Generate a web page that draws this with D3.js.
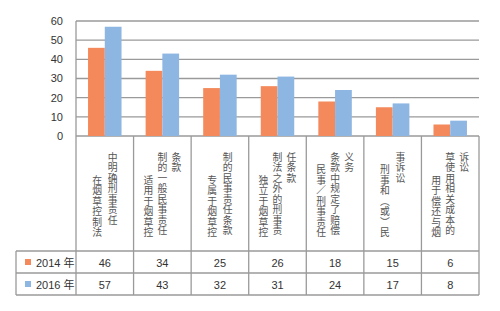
<!DOCTYPE html>
<html>
<head>
<meta charset="utf-8">
<script src="https://cdn.jsdelivr.net/npm/d3@7"></script>
<style>
  body { margin: 0; background: #fff; }
  text { font-family: "Liberation Sans", Arial, "Noto Sans CJK SC", sans-serif; fill: #333; }
  .cjk { font-family: "Noto Sans CJK SC", sans-serif; fill: #555; writing-mode: vertical-rl; }
</style>
</head>
<body>
<script>
// data
var categories = ["c1", "c2", "c3", "c4", "c5", "c6", "c7"];
// label columns, left to right (vertical text)
var labelColumns = [
    ["在烟草控制法", "中明确刑事责任"],
    ["适用于烟草控", "制的一般民事责任", "条款"],
    ["专属于烟草控", "制的民事责任条款"],
    ["独立于烟草控", "制法之外的刑事责", "任条款"],
    ["民事／刑事责任", "条款中规定了赔偿", "义务"],
    ["刑事和（或）民", "事诉讼"],
    ["用于偿还与烟", "草使用相关成本的", "诉讼"]
];
var seriesNames = ["2014 年", "2016 年"];
var values2014 = [46, 34, 25, 26, 18, 15, 6];
var values2016 = [57, 43, 32, 31, 24, 17, 8];
var yTicks = [0, 10, 20, 30, 40, 50, 60];
var colors = ["#F4895B", "#8DB6E3"];

var series = [values2014, values2016];

// set dimensions
var width = 500;
var height = 311;
var plotLeft = 76, plotRight = 479, plotTop = 21, plotBottom = 136;
var labelBottom = 251, rowH = 22;

var svg = d3.select("body")
    .append("svg")
    .attr("width", width)
    .attr("height", height);

// scales
var x0 = d3.scaleBand()
    .domain(categories)
    .range([plotLeft, plotRight]);

var x1 = d3.scaleBand()
    .domain(seriesNames)
    .range([0, x0.bandwidth()])
    .paddingOuter(0.72);

var y = d3.scaleLinear()
    .domain([0, 60])
    .range([plotBottom, plotTop]);

var lineColor = "#9a9a9a";

// gridlines
svg.selectAll("line.grid")
    .data(yTicks)
    .enter()
    .append("line")
    .attr("x1", plotLeft)
    .attr("x2", plotRight)
    .attr("y1", d => y(d))
    .attr("y2", d => y(d))
    .attr("stroke", lineColor)
    .attr("stroke-width", 1.3);

// y axis labels
svg.selectAll("text.ytick")
    .data(yTicks)
    .enter()
    .append("text")
    .attr("x", 63)
    .attr("y", d => y(d))
    .attr("dy", "0.35em")
    .attr("text-anchor", "end")
    .attr("font-size", "11px")
    .text(d => d);

// bars
series.forEach(function(vals, s) {
    svg.selectAll("rect.s" + s)
        .data(vals)
        .enter()
        .append("rect")
        .attr("x", (d, i) => x0(categories[i]) + x1(seriesNames[s]))
        .attr("y", d => y(d))
        .attr("width", x1.bandwidth())
        .attr("height", d => y(0) - y(d))
        .attr("fill", colors[s]);
});

// vertical separators (left border runs up to the top gridline)
var seps = categories.map(c => x0(c)).concat([plotRight]);
svg.selectAll("line.sep")
    .data(seps)
    .enter()
    .append("line")
    .attr("x1", d => d)
    .attr("x2", d => d)
    .attr("y1", (d, i) => i === 0 ? plotTop : plotBottom)
    .attr("y2", labelBottom + 2 * rowH)
    .attr("stroke", lineColor)
    .attr("stroke-width", 1.3);

// table horizontal lines
[labelBottom, labelBottom + rowH, labelBottom + 2 * rowH].forEach(function(yy) {
    svg.append("line")
        .attr("x1", 16).attr("x2", plotRight)
        .attr("y1", yy).attr("y2", yy)
        .attr("stroke", lineColor)
        .attr("stroke-width", 1.3);
});
svg.append("line")
    .attr("x1", 16).attr("x2", 16)
    .attr("y1", labelBottom).attr("y2", labelBottom + 2 * rowH)
    .attr("stroke", lineColor)
    .attr("stroke-width", 1.3);

// vertical category labels: first column bottom-aligned, others top-aligned
labelColumns.forEach(function(cols, i) {
    var cx = x0(categories[i]) + x0.bandwidth() / 2;
    var gap = cols.length === 3 ? 14 : 15.5;
    cols.forEach(function(col, j) {
        svg.append("text")
            .attr("class", "cjk")
            .attr("x", cx + (j - (cols.length - 1) / 2) * gap)
            .attr("y", j === 0 ? 238 : 152)
            .attr("text-anchor", j === 0 ? "end" : "start")
            .attr("font-size", "9.8px")
            .attr("letter-spacing", "0.7px")
            .text(col);
    });
});

// table rows
series.forEach(function(vals, s) {
    var rowY = labelBottom + s * rowH;
    svg.append("rect")
        .attr("x", 25)
        .attr("y", rowY + 8)
        .attr("width", 6)
        .attr("height", 6)
        .attr("fill", colors[s]);
    svg.append("text")
        .attr("x", 36)
        .attr("y", rowY + 15.5)
        .attr("font-size", "11px")
        .text(seriesNames[s]);
    svg.selectAll("text.v" + s)
        .data(vals)
        .enter()
        .append("text")
        .attr("x", (d, i) => x0(categories[i]) + x0.bandwidth() / 2)
        .attr("y", rowY + 15.5)
        .attr("text-anchor", "middle")
        .attr("font-size", "11px")
        .text(d => d);
});
</script>
</body>
</html>
